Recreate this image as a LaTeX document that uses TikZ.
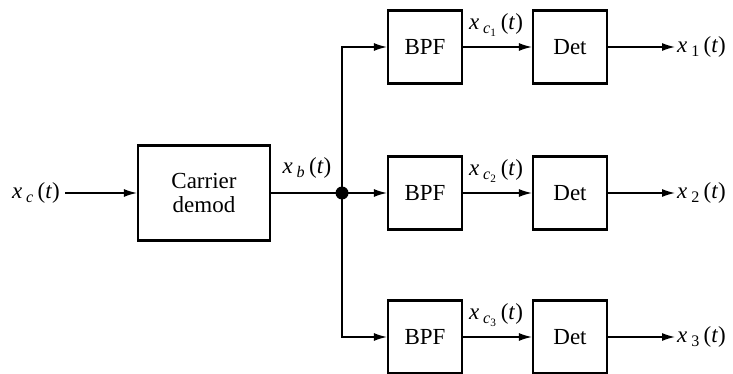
\documentclass[tikz,border=0pt]{standalone}
\usepackage{fontspec}
\setmainfont{Liberation Serif}
\usetikzlibrary{arrows.meta}
\newcommand{\xs}[1]{\textit{x}\,\textsubscript{#1}\,(\textit{t})}
\begin{document}
\begin{tikzpicture}[x=1pt,y=-1pt,
  blk/.style={draw,line width=2.2pt,minimum width=74pt,minimum height=73pt,inner sep=0pt,font=\fontsize{23}{26}\selectfont},
  lbl/.style={inner sep=2pt,font=\fontsize{23}{26}\selectfont},
  conn/.style={line width=1.4pt,-{Latex[length=13pt,width=8pt]}},
  wire/.style={line width=1.4pt}]
\useasboundingbox (0,0) rectangle (733,374);
\node[blk,minimum width=132pt,minimum height=95pt,align=center] (cd) at (204,193) {Carrier\\[-2pt]demod};
\node[lbl,inner xsep=5pt] (in) at (36,193) {\xs{\textit{c}}};
\coordinate (j) at (342,193);
\foreach \i/\y in {1/47,2/193,3/337}{
  \node[blk] (bpf\i) at (425,\y) {BPF};
  \node[blk] (det\i) at (570,\y) {Det};
  \node[lbl,anchor=west] (out\i) at (675,\y) {\xs{\i}};
  \node[lbl] (lc\i) at (496,\y-22) {\xs{\textit{c}\textsubscript{\i}}};
  \draw[conn] (bpf\i) -- (det\i);
  \draw[conn] (det\i) -- (out\i);
}
\node[lbl] (lb) at (307,168) {\xs{\textit{b}}};
\draw[conn] (in) -- (cd);
\draw[wire] (cd) -- (j);
\draw[conn] (j) -- (bpf2);
\draw[conn] (j) |- (bpf1);
\draw[conn] (j) |- (bpf3);
\fill (j) circle (6.5pt);
\end{tikzpicture}
\end{document}
